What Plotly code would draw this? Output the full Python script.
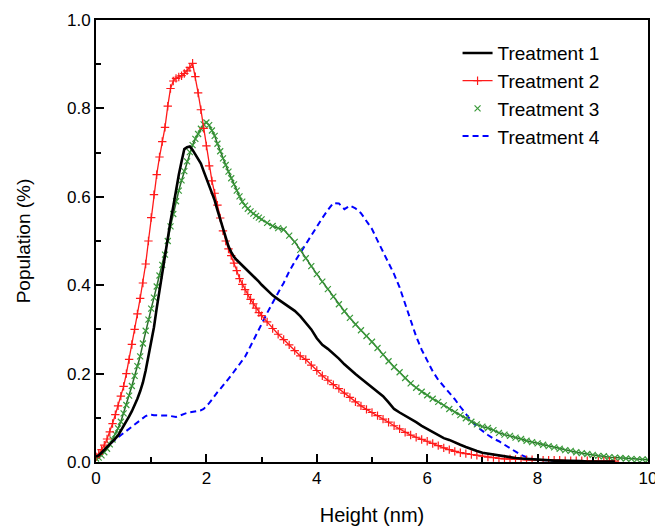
import plotly.graph_objects as go

# Height grid (nm): 0.05 steps to 3 nm, then 0.1 steps to 10 nm
height = [round(0.05 * i, 2) for i in range(61)] + [round(3 + 0.1 * i, 1) for i in range(1, 71)]

treatment1 = [
    0.012, 0.015, 0.021, 0.027, 0.033, 0.040, 0.046, 0.053, 0.060, 0.070,
    0.080, 0.092, 0.103, 0.115, 0.128, 0.143, 0.160, 0.180, 0.207, 0.237,
    0.268, 0.305, 0.348, 0.388, 0.428, 0.470, 0.510, 0.545, 0.578, 0.617,
    0.650, 0.680, 0.708, 0.712, 0.714, 0.706, 0.696, 0.686, 0.675, 0.658,
    0.642, 0.626, 0.610, 0.592, 0.570, 0.548, 0.526, 0.504, 0.488, 0.475,
    0.464, 0.457, 0.451, 0.445, 0.440, 0.434, 0.427, 0.420, 0.414, 0.408,
    0.401,
    0.389, 0.377, 0.368, 0.360, 0.352, 0.342, 0.330, 0.316, 0.300, 0.280,
    0.265, 0.256, 0.246, 0.234, 0.221, 0.209, 0.199, 0.189, 0.179, 0.169,
    0.158, 0.149, 0.135, 0.120, 0.112, 0.105, 0.098, 0.090, 0.082, 0.075,
    0.068, 0.060, 0.054, 0.050, 0.044, 0.039, 0.034, 0.029, 0.025, 0.021,
    0.019, 0.016, 0.014, 0.012, 0.011, 0.009, 0.008, 0.007, 0.006, 0.005,
    0.004, 0.004, 0.003, 0.003, 0.003, 0.002, 0.002, 0.002, 0.001, 0.001,
    0.001, 0.001, 0.001, 0.001, None, None, None, None, None, None,
]

treatment2 = [
    0.012, 0.018, 0.028, 0.038, 0.052, 0.068, 0.087, 0.107, 0.127, 0.149,
    0.171, 0.200, 0.232, 0.266, 0.300, 0.335, 0.370, 0.405, 0.448, 0.500,
    0.553, 0.605, 0.650, 0.690, 0.725, 0.757, 0.805, 0.845, 0.862, 0.868,
    0.871, 0.874, 0.879, 0.885, 0.893, 0.902, 0.872, 0.835, 0.797, 0.755,
    0.715, 0.670, 0.636, 0.608, 0.581, 0.552, 0.523, 0.500, 0.482, 0.467,
    0.450, 0.433, 0.415, 0.402, 0.390, 0.379, 0.368, 0.358, 0.348, 0.338,
    0.331,
    0.317, 0.302, 0.289, 0.277, 0.265, 0.252, 0.240, 0.232, 0.219, 0.207,
    0.195, 0.185, 0.175, 0.166, 0.156, 0.146, 0.136, 0.127, 0.119, 0.112,
    0.105, 0.097, 0.090, 0.082, 0.075, 0.067, 0.061, 0.056, 0.051, 0.047,
    0.042, 0.037, 0.032, 0.028, 0.024, 0.021, 0.019, 0.017, 0.015, 0.013,
    0.011, 0.010, 0.008, 0.007, 0.007, 0.006, 0.006, 0.005, 0.005, 0.005,
    0.004, 0.004, 0.004, 0.004, 0.003, 0.003, 0.003, 0.003, 0.003, 0.003,
    0.002, 0.002, 0.002, 0.002, None, None, None, None, None, None,
]

treatment3 = [
    0.008, 0.010, 0.015, 0.022, 0.030, 0.040, 0.051, 0.063, 0.076, 0.091,
    0.110, 0.129, 0.150, 0.172, 0.195, 0.217, 0.239, 0.268, 0.297, 0.322,
    0.347, 0.372, 0.397, 0.422, 0.446, 0.469, 0.500, 0.533, 0.561, 0.590,
    0.614, 0.637, 0.658, 0.680, 0.701, 0.717, 0.731, 0.742, 0.754, 0.764,
    0.768, 0.762, 0.750, 0.738, 0.720, 0.703, 0.687, 0.672, 0.657, 0.642,
    0.628, 0.614, 0.601, 0.589, 0.580, 0.573, 0.567, 0.562, 0.557, 0.553,
    0.549,
    0.541, 0.534, 0.529, 0.526, 0.512, 0.498, 0.480, 0.461, 0.443, 0.425,
    0.408, 0.391, 0.374, 0.357, 0.341, 0.326, 0.311, 0.298, 0.285, 0.272,
    0.258, 0.243, 0.228, 0.215, 0.203, 0.190, 0.178, 0.168, 0.159, 0.151,
    0.143, 0.136, 0.128, 0.120, 0.113, 0.106, 0.099, 0.091, 0.085, 0.080,
    0.077, 0.072, 0.066, 0.062, 0.059, 0.055, 0.052, 0.048, 0.045, 0.042,
    0.039, 0.036, 0.033, 0.030, 0.027, 0.025, 0.022, 0.020, 0.018, 0.016,
    0.014, 0.013, 0.011, 0.010, 0.009, 0.008, 0.007, 0.006, 0.006, 0.005,
]

treatment4 = [
    0.012, 0.016, 0.021, 0.027, 0.034, 0.041, 0.046, 0.051, 0.056, 0.061,
    0.066, 0.071, 0.076, 0.080, 0.085, 0.090, 0.095, 0.100, 0.104, 0.106,
    0.107, 0.106, 0.106, 0.106, 0.105, 0.106, 0.105, 0.104, 0.103, 0.102,
    0.104, 0.107, 0.109, 0.111, 0.112, 0.113, 0.114, 0.115, 0.117, 0.120,
    0.126, 0.133, 0.141, 0.150, 0.158, 0.165, 0.172, 0.179, 0.188, 0.196,
    0.204, 0.212, 0.220, 0.228, 0.238, 0.250, 0.263, 0.276, 0.288, 0.300,
    0.312,
    0.337, 0.361, 0.383, 0.405, 0.431, 0.453, 0.473, 0.495, 0.515, 0.533,
    0.552, 0.570, 0.586, 0.585, 0.572, 0.580, 0.574, 0.563, 0.546, 0.527,
    0.501, 0.476, 0.451, 0.425, 0.395, 0.357, 0.320, 0.284, 0.254, 0.230,
    0.205, 0.186, 0.171, 0.158, 0.142, 0.125, 0.108, 0.093, 0.080, 0.070,
    0.061, 0.053, 0.047, 0.039, 0.031, 0.023, 0.016, 0.011, 0.007, 0.005,
    0.004, 0.003, 0.003, 0.002, 0.002, 0.002, 0.001, 0.001, 0.001, 0.001,
    None, None, None, None, None, None, None, None, None, None,
]

x_ticks = [0, 2, 4, 6, 8, 10]
y_ticks = [0.0, 0.2, 0.4, 0.6, 0.8, 1.0]

FONT = "Liberation Sans, Arial, sans-serif"

fig = go.Figure()

fig.add_trace(go.Scatter(
    x=height, y=treatment4, name="Treatment 4", mode="lines",
    line=dict(color="#0000ff", width=2, dash="6px,4px"), legendrank=4,
))
fig.add_trace(go.Scatter(
    x=height, y=treatment3, mode="lines", showlegend=False, hoverinfo="skip",
    line=dict(color="#2a6e2a", width=1.5),
))
fig.add_trace(go.Scatter(
    x=height, y=treatment3, name="Treatment 3", mode="markers",
    marker=dict(symbol="x-thin", size=6, line=dict(color="#3a9a3a", width=1.2)),
    legendrank=3,
))
fig.add_trace(go.Scatter(
    x=height, y=treatment2, name="Treatment 2", mode="lines+markers",
    line=dict(color="#ff1a1a", width=1.3),
    marker=dict(symbol="cross-thin", size=6, line=dict(color="#ff1a1a", width=1.2)),
    legendrank=2,
))
fig.add_trace(go.Scatter(
    x=height, y=treatment1, name="Treatment 1", mode="lines",
    line=dict(color="#000000", width=2.6), legendrank=1,
))

axis_common = dict(
    showline=True, linecolor="black", linewidth=2, mirror=True,
    ticks="inside", ticklen=8, tickwidth=2, tickcolor="black",
    showgrid=False, zeroline=False, automargin=False,
    ticklabeloverflow="allow",
    tickfont=dict(family=FONT, size=17, color="black"),
)

fig.update_xaxes(
    range=[0, 10], tickvals=x_ticks,
    title=dict(text="Height (nm)", font=dict(family=FONT, size=20, color="black"), standoff=21),
    minor=dict(dtick=1, ticks="inside", ticklen=5, tickwidth=2, tickcolor="black"),
    **axis_common,
)
fig.update_yaxes(
    range=[0, 1], tickvals=y_ticks, tickformat=".1f",
    title=dict(text="Population (%)", font=dict(family=FONT, size=19, color="black"), standoff=31),
    minor=dict(dtick=0.1, ticks="inside", ticklen=5, tickwidth=2, tickcolor="black"),
    **axis_common,
)

fig.update_layout(
    width=655, height=527,
    margin=dict(l=96, r=7, t=20, b=65),
    paper_bgcolor="white", plot_bgcolor="white",
    font=dict(family=FONT, color="black"),
    legend=dict(
        x=0.655, y=0.968, xanchor="left", yanchor="top",
        bgcolor="rgba(0,0,0,0)", font=dict(family=FONT, size=19, color="black"),
        tracegroupgap=0,
    ),
    showlegend=True,
)

fig.write_html(
    "out.html",
    config={"displayModeBar": False},
    post_script="document.body.style.margin='0';",
)
